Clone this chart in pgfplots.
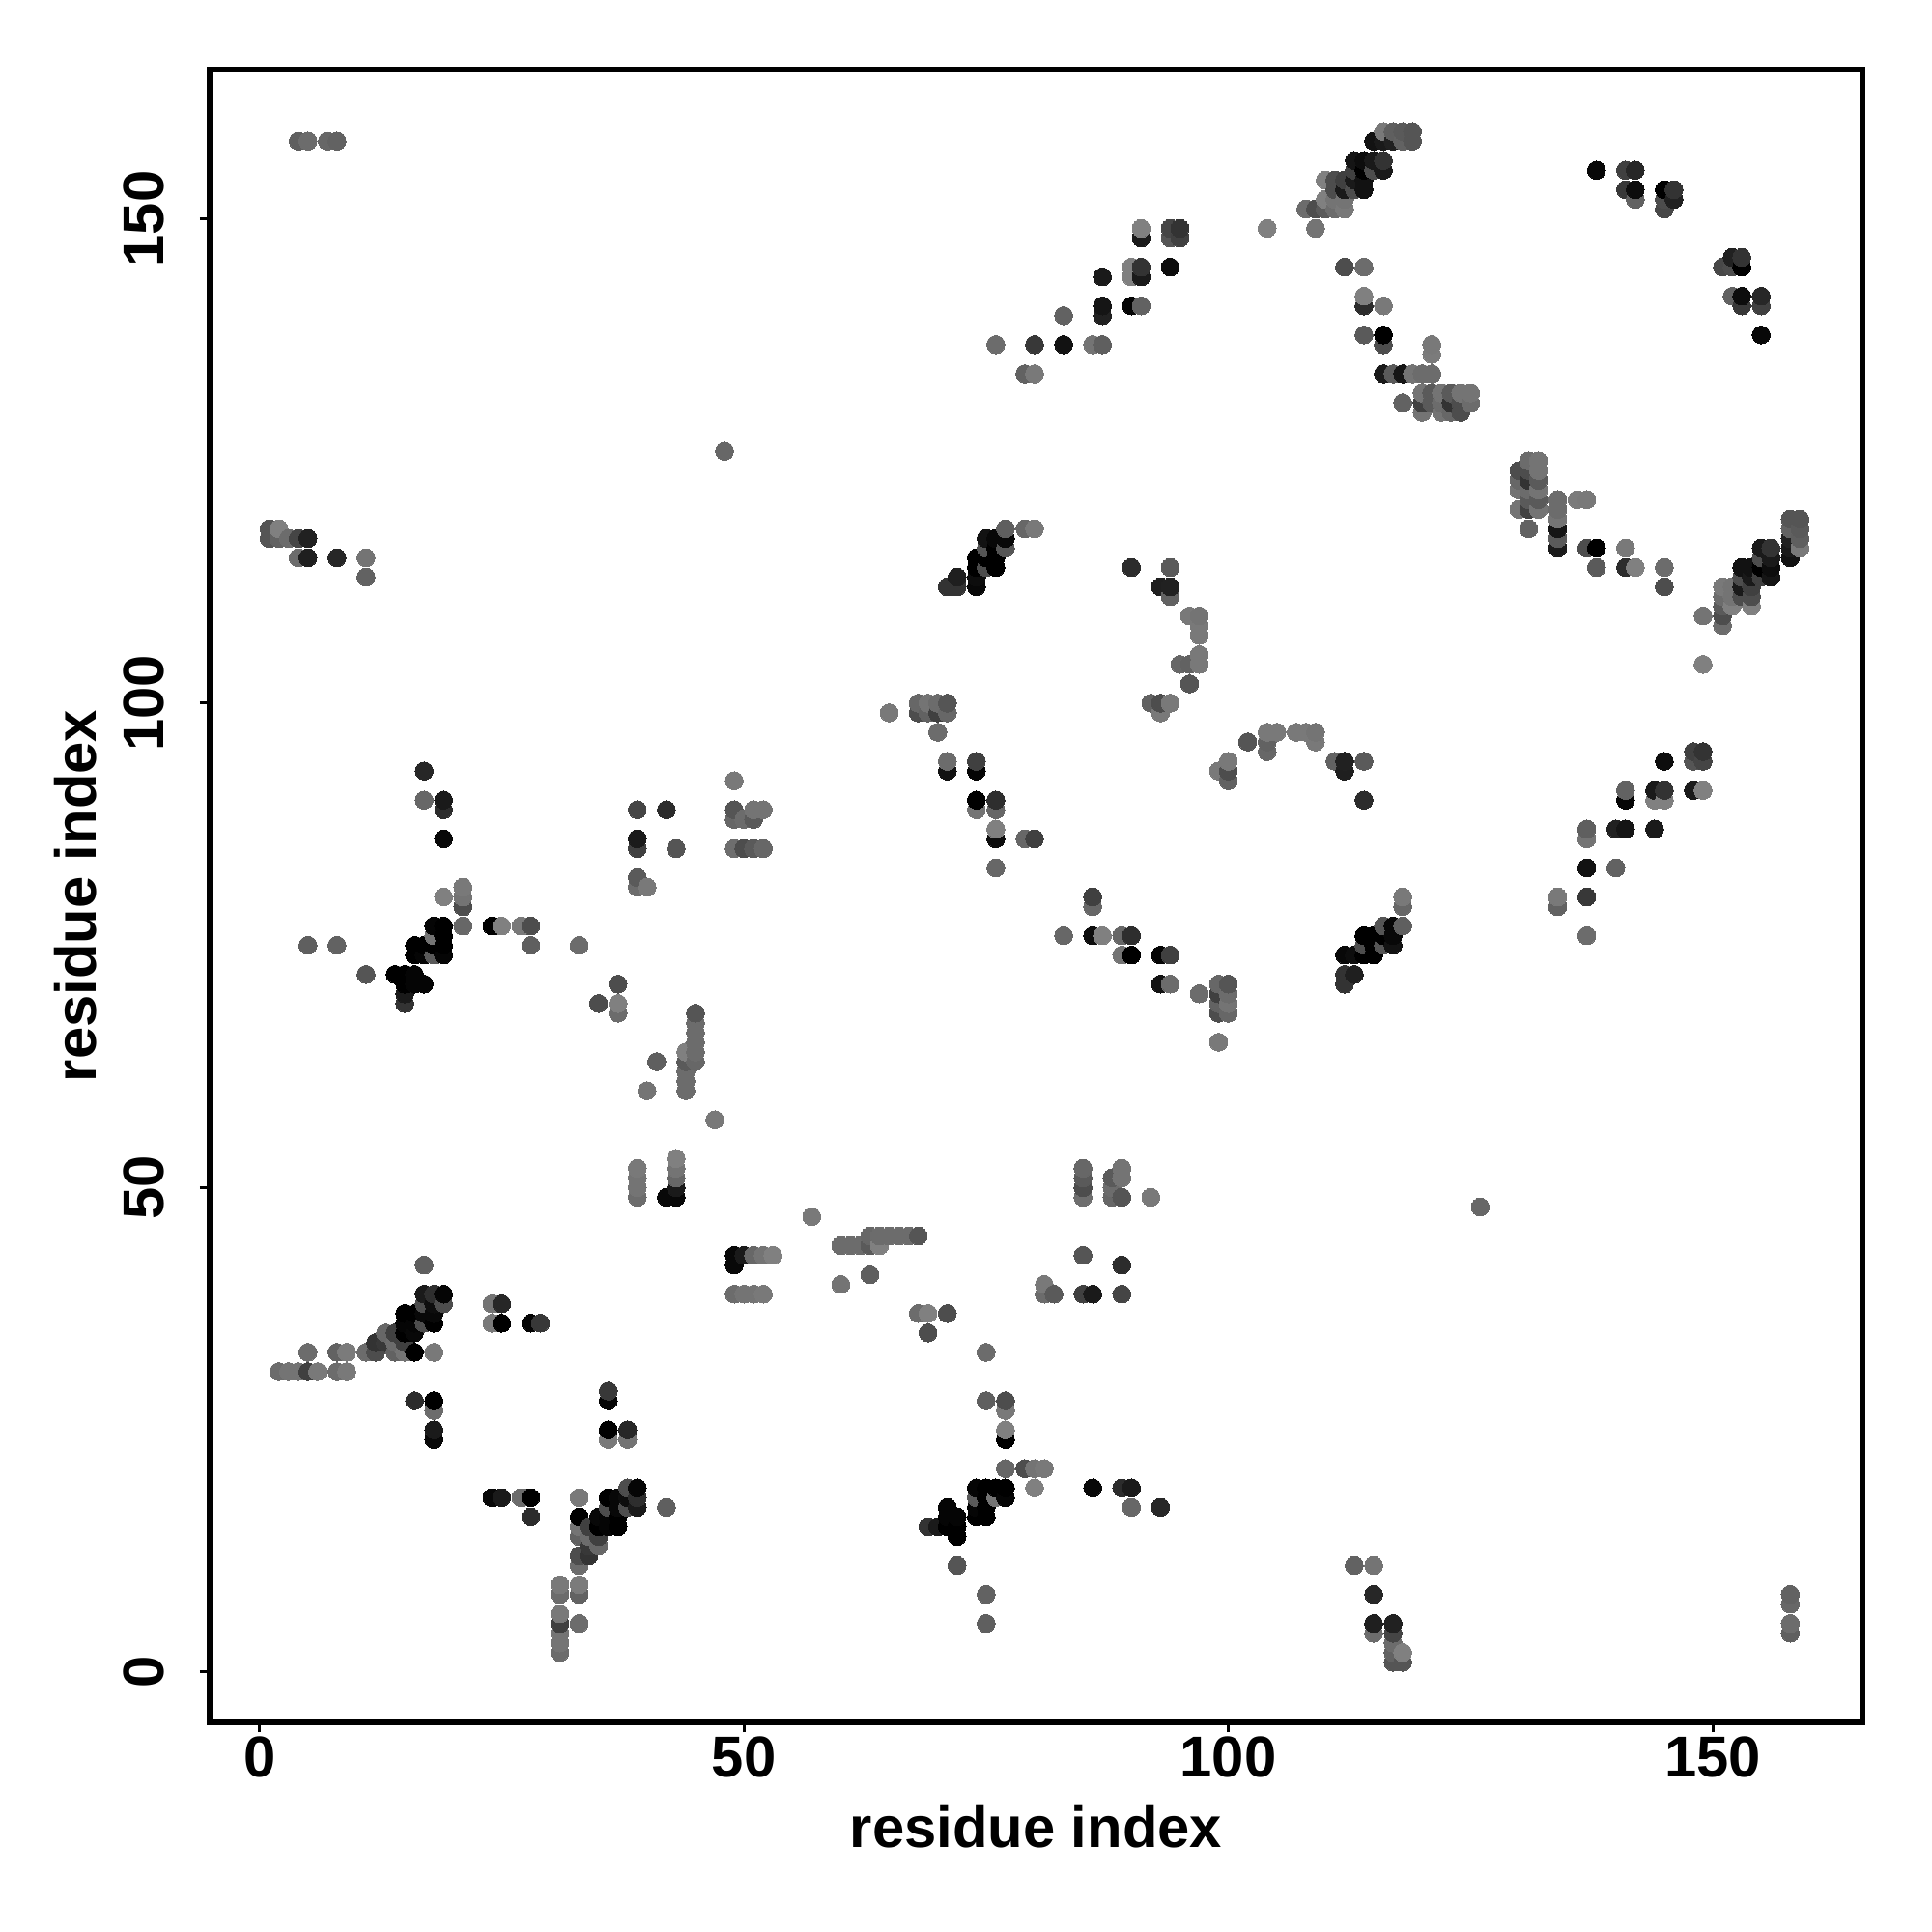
\documentclass[border=0pt]{standalone}
\usepackage{fontspec}
\setmainfont{Liberation Sans}
\usepackage{pgfplots}
\pgfplotsset{compat=1.18}
\begin{document}
\begin{tikzpicture}
\useasboundingbox (0,0) rectangle (20cm,20cm);
\begin{axis}[
  at={(2.17cm,2.17cm)}, anchor=south west,
  scale only axis, width=17.11cm, height=17.11cm,
  xmin=-5.15, xmax=165.45, ymin=-5.2, ymax=165.4,
  axis line style={line width=0.55mm},
  xtick={0,50,100,150}, ytick={0,50,100,150},
  xtick pos=bottom, ytick pos=left,
  tick align=outside, major tick length=1.0mm,
  tick style={line width=0.3mm, black},
  /pgf/number format/assume math mode=true,
  tick label style={font=\fontsize{17pt}{18pt}\selectfont\bfseries},
  xticklabel style={yshift=0.8mm},
  yticklabel style={rotate=90, anchor=south, yshift=2.4mm},
  label style={font=\fontsize{17pt}{18pt}\selectfont\bfseries},
  xlabel={residue index}, ylabel={residue index},
  xlabel style={at={(axis description cs:0.5,-0.0630)}, anchor=center},
  ylabel style={at={(axis description cs:-0.081,0.5)}, anchor=center},
  colormap={gr}{gray(0cm)=(0); gray(1cm)=(1)},
  point meta min=0, point meta max=1,
  clip=false,
]
\addplot[scatter, only marks, mark=*, mark size=0.93mm, mark options={line width=0pt},
  point meta=explicit,
  scatter/use mapped color={draw=mapped color, fill=mapped color}]
  table[row sep=\\, x=x, y=y, meta=g] {
x y g\\
1 117 .33\\ 1 118 .33\\
2 31 .42\\ 2 117 .38\\ 2 118 .5\\
3 31 .45\\ 3 117 .42\\
4 31 .45\\ 4 115 .42\\ 4 117 .27\\ 4 158 .37\\
5 31 .25\\ 5 33 .42\\ 5 75 .37\\ 5 115 .12\\ 5 117 .13\\ 5 158 .42\\
6 31 .47\\
7 158 .4\\
8 31 .42\\ 8 33 .38\\ 8 75 .38\\ 8 115 .15\\ 8 158 .38\\
9 31 .47\\ 9 33 .48\\
11 33 .42\\ 11 72 .33\\ 11 113 .38\\ 11 115 .45\\
12 33 .3\\ 12 34 .2\\
13 34 .22\\ 13 35 .4\\
14 33 .38\\ 14 34 .42\\ 14 35 .25\\ 14 72 0\\
15 33 .45\\ 15 34 .25\\ 15 35 0\\ 15 36 .02\\ 15 37 0\\ 15 69 .2\\ 15 70 .1\\ 15 71 0\\ 15 72 0\\
16 28 .17\\ 16 33 0\\ 16 35 .03\\ 16 36 .02\\ 16 37 0\\ 16 71 .02\\ 16 72 .02\\ 16 74 0\\ 16 75 0\\
17 36 .3\\ 17 37 .03\\ 17 38 .3\\ 17 39 .1\\ 17 42 .37\\ 17 71 .02\\ 17 74 .02\\ 17 75 0\\ 17 90 .4\\ 17 93 .15\\
18 24 .03\\ 18 25 .1\\ 18 27 .42\\ 18 28 0\\ 18 33 .47\\ 18 36 0\\ 18 37 .03\\ 18 38 .05\\ 18 39 .18\\ 18 74 .35\\ 18 75 0\\ 18 76 .45\\ 18 77 .02\\
19 38 .3\\ 19 39 .02\\ 19 74 .02\\ 19 75 0\\ 19 76 0\\ 19 77 0\\ 19 80 .5\\ 19 86 .03\\ 19 89 .17\\ 19 90 .1\\
21 77 .4\\ 21 79 .3\\ 21 80 .45\\ 21 81 .47\\
24 36 .47\\ 24 38 .45\\ 24 77 0\\
25 36 0\\ 25 38 .15\\ 25 77 .5\\
27 77 .47\\
28 36 .02\\ 28 75 .37\\ 28 77 .3\\
29 36 .22\\
33 75 .42\\
35 69 .3\\
37 68 .42\\ 37 69 .5\\ 37 71 .3\\
39 49 .42\\ 39 50 .45\\ 39 51 .45\\ 39 52 .47\\ 39 81 .42\\ 39 82 .35\\ 39 85 .25\\ 39 86 .1\\ 39 89 .27\\
40 60 .45\\ 40 81 .47\\
41 63 .37\\
42 49 .03\\ 42 89 .17\\
43 49 .03\\ 43 50 .1\\ 43 51 .4\\ 43 52 .45\\ 43 53 .5\\ 43 85 .33\\
44 60 .42\\ 44 61 .42\\ 44 62 .42\\ 44 63 .35\\ 44 64 .5\\
45 63 .4\\ 45 64 .42\\ 45 65 .42\\ 45 66 .42\\ 45 67 .42\\ 45 68 .33\\
47 57 .47\\
48 126 .4\\
49 85 .43\\ 49 88 .4\\ 49 89 .33\\ 49 92 .47\\
50 85 .3\\ 50 88 .42\\
51 85 .35\\ 51 88 .35\\ 51 89 .45\\
52 85 .4\\ 52 89 .45\\
65 99 .47\\
68 99 .3\\ 68 100 .4\\
69 99 .38\\ 69 100 .45\\
70 97 .42\\ 70 99 .25\\ 70 100 .42\\
71 93 .07\\ 71 94 .42\\ 71 99 .4\\ 71 100 .33\\ 71 112 .2\\
72 112 .2\\ 72 113 .12\\
74 89 .45\\ 74 90 0\\ 74 93 .02\\ 74 94 .25\\ 74 112 .03\\ 74 113 .05\\ 74 114 0\\ 74 115 0\\
75 114 .3\\ 75 115 0\\ 75 116 .33\\ 75 117 .07\\
76 83 .4\\ 76 86 .05\\ 76 87 .5\\ 76 89 .4\\ 76 90 .18\\ 76 114 0\\ 76 115 0\\ 76 116 0\\ 76 117 .03\\ 76 137 .42\\
77 116 .33\\ 77 117 .03\\ 77 118 .37\\
79 86 .4\\ 79 118 .4\\ 79 134 .38\\
80 86 .25\\ 80 118 .47\\ 80 134 .47\\ 80 137 .22\\
83 137 .07\\ 83 140 .38\\
86 137 .45\\
87 137 .37\\ 87 140 .13\\ 87 141 .08\\ 87 144 .1\\
90 114 .17\\ 90 141 .02\\ 90 144 .5\\ 90 145 .5\\
91 141 .38\\ 91 144 .1\\ 91 145 .2\\ 91 148 .1\\ 91 149 .5\\
92 100 .38\\
93 99 .47\\ 93 100 .3\\ 93 112 .12\\
94 100 .47\\ 94 111 .38\\ 94 112 .13\\ 94 114 .35\\ 94 145 .05\\ 94 148 .33\\ 94 149 .27\\
95 104 .4\\ 95 148 .25\\ 95 149 .2\\
96 102 .33\\ 96 104 .38\\ 96 109 .47\\
97 104 .47\\ 97 105 .47\\ 97 107 .47\\ 97 108 .47\\ 97 109 .45\\
104 149 .5\\
108 151 .42\\
109 149 .45\\ 109 151 .3\\
110 151 .35\\ 110 152 .5\\ 110 154 .5\\
111 151 .42\\ 111 152 .45\\ 111 153 .3\\ 111 154 .3\\
112 145 .3\\ 112 151 .47\\ 112 152 .45\\ 112 153 .1\\ 112 154 .25\\
113 153 .3\\ 113 154 .1\\ 113 155 .25\\ 113 156 .08\\
114 138 .35\\ 114 141 .17\\ 114 142 .5\\ 114 145 .42\\ 114 153 .07\\ 114 154 .07\\ 114 155 0\\ 114 156 .05\\
115 155 .3\\ 115 156 .1\\ 115 158 .07\\
116 134 .1\\ 116 137 .3\\ 116 138 0\\ 116 141 .47\\ 116 155 .1\\ 116 156 .2\\ 116 158 .1\\ 116 159 .47\\
117 134 .35\\ 117 158 .13\\ 117 159 .37\\
118 131 .38\\ 118 134 .08\\ 118 158 .38\\ 118 159 .35\\
119 134 .45\\ 119 158 .33\\ 119 159 .33\\
120 130 .45\\ 120 131 .25\\ 120 132 .45\\ 120 134 .42\\
121 131 .35\\ 121 132 .35\\ 121 134 .42\\ 121 136 .48\\ 121 137 .47\\
122 130 .45\\ 122 131 .42\\ 122 132 .45\\
123 130 .4\\ 123 131 .2\\ 123 132 .35\\
124 130 .3\\ 124 131 .3\\ 124 132 .45\\
125 131 .42\\ 125 132 .45\\
138 155 .03\\
141 153 .22\\ 141 155 .25\\
142 152 .38\\ 142 153 .05\\ 142 155 .15\\
145 151 .28\\ 145 152 .3\\ 145 153 0\\
146 152 .13\\ 146 153 .2\\
24 18 .03\\
25 18 .1\\
27 18 .42\\
28 16 .17\\ 28 18 0\\
31 2 .42\\ 31 3 .45\\ 31 4 .45\\ 31 5 .25\\ 31 6 .47\\ 31 8 .42\\ 31 9 .47\\
33 5 .42\\ 33 8 .38\\ 33 9 .48\\ 33 11 .42\\ 33 12 .3\\ 33 14 .38\\ 33 15 .45\\ 33 16 0\\ 33 18 .47\\
34 12 .2\\ 34 13 .22\\ 34 14 .42\\ 34 15 .25\\
35 13 .4\\ 35 14 .25\\ 35 15 0\\ 35 16 .03\\
36 15 .02\\ 36 16 .02\\ 36 17 .3\\ 36 18 0\\ 36 24 .47\\ 36 25 0\\ 36 28 .02\\ 36 29 .22\\
37 15 0\\ 37 16 0\\ 37 17 .03\\ 37 18 .03\\
38 17 .3\\ 38 18 .05\\ 38 19 .3\\ 38 24 .45\\ 38 25 .15\\
39 17 .1\\ 39 18 .18\\ 39 19 .02\\
42 17 .37\\
49 39 .42\\ 49 42 .03\\ 49 43 .03\\
50 39 .45\\ 50 43 .1\\
51 39 .45\\ 51 43 .4\\
52 39 .47\\ 52 43 .45\\
53 43 .5\\
57 47 .47\\
60 40 .45\\ 60 44 .42\\
61 44 .42\\
62 44 .42\\
63 41 .37\\ 63 44 .35\\ 63 45 .4\\
64 44 .5\\ 64 45 .42\\
65 45 .42\\
66 45 .42\\
67 45 .42\\
68 37 .42\\ 68 45 .33\\
69 15 .2\\ 69 35 .3\\ 69 37 .5\\
70 15 .1\\
71 15 0\\ 71 16 .02\\ 71 17 .02\\ 71 37 .3\\
72 11 .33\\ 72 14 0\\ 72 15 0\\ 72 16 .02\\
74 16 0\\ 74 17 .02\\ 74 18 .35\\ 74 19 .02\\
75 5 .37\\ 75 8 .38\\ 75 16 0\\ 75 17 0\\ 75 18 0\\ 75 19 0\\ 75 28 .37\\ 75 33 .42\\
76 18 .45\\ 76 19 0\\
77 18 .02\\ 77 19 0\\ 77 21 .4\\ 77 24 0\\ 77 25 .5\\ 77 27 .47\\ 77 28 .3\\
79 21 .3\\
80 19 .5\\ 80 21 .45\\
81 21 .47\\ 81 39 .42\\ 81 40 .47\\
82 39 .35\\
83 76 .4\\
85 39 .25\\ 85 43 .33\\ 85 49 .43\\ 85 50 .3\\ 85 51 .35\\ 85 52 .4\\
86 19 .03\\ 86 39 .1\\ 86 76 .05\\ 86 79 .4\\ 86 80 .25\\
87 76 .5\\
88 49 .4\\ 88 50 .42\\ 88 51 .35\\
89 19 .17\\ 89 39 .27\\ 89 42 .17\\ 89 49 .33\\ 89 51 .45\\ 89 52 .45\\ 89 74 .45\\ 89 76 .4\\
90 17 .4\\ 90 19 .1\\ 90 74 0\\ 90 76 .18\\
92 49 .47\\
93 17 .15\\ 93 71 .07\\ 93 74 .02\\
94 71 .42\\ 94 74 .25\\
97 70 .42\\
99 65 .47\\ 99 68 .3\\ 99 69 .38\\ 99 70 .25\\ 99 71 .4\\ 99 93 .47\\
100 68 .4\\ 100 69 .45\\ 100 70 .42\\ 100 71 .33\\ 100 92 .38\\ 100 93 .3\\ 100 94 .47\\
102 96 .33\\
104 95 .4\\ 104 96 .38\\ 104 97 .47\\
105 97 .47\\
107 97 .47\\
108 97 .47\\
109 96 .47\\ 109 97 .45\\
111 94 .38\\
112 71 .2\\ 112 72 .2\\ 112 74 .03\\ 112 93 .12\\ 112 94 .13\\
113 11 .38\\ 113 72 .12\\ 113 74 .05\\
114 74 0\\ 114 75 .3\\ 114 76 0\\ 114 90 .17\\ 114 94 .35\\
115 4 .42\\ 115 5 .12\\ 115 8 .15\\ 115 11 .45\\ 115 74 0\\ 115 75 0\\ 115 76 0\\
116 75 .33\\ 116 76 0\\ 116 77 .33\\
117 1 .33\\ 117 2 .38\\ 117 3 .42\\ 117 4 .27\\ 117 5 .13\\ 117 75 .07\\ 117 76 .03\\ 117 77 .03\\
118 1 .33\\ 118 2 .5\\ 118 77 .37\\ 118 79 .4\\ 118 80 .47\\
126 48 .4\\
130 120 .45\\ 130 122 .45\\ 130 123 .4\\ 130 124 .3\\
131 118 .38\\ 131 120 .25\\ 131 121 .35\\ 131 122 .42\\ 131 123 .2\\ 131 124 .3\\ 131 125 .42\\
132 120 .45\\ 132 121 .35\\ 132 122 .45\\ 132 123 .35\\ 132 124 .45\\ 132 125 .45\\
134 79 .38\\ 134 80 .47\\ 134 116 .1\\ 134 117 .35\\ 134 118 .08\\ 134 119 .45\\ 134 120 .42\\ 134 121 .42\\
136 121 .48\\
137 76 .42\\ 137 80 .22\\ 137 83 .07\\ 137 86 .45\\ 137 87 .37\\ 137 116 .3\\ 137 121 .47\\
138 114 .35\\ 138 116 0\\
140 83 .38\\ 140 87 .13\\
141 87 .08\\ 141 90 .02\\ 141 91 .38\\ 141 114 .17\\ 141 116 .47\\
142 114 .5\\
144 87 .1\\ 144 90 .5\\ 144 91 .1\\
145 90 .5\\ 145 91 .2\\ 145 94 .05\\ 145 112 .3\\ 145 114 .42\\
148 91 .1\\ 148 94 .33\\ 148 95 .25\\
149 91 .5\\ 149 94 .27\\ 149 95 .2\\ 149 104 .5\\ 149 109 .45\\
151 108 .42\\ 151 109 .3\\ 151 110 .35\\ 151 111 .42\\ 151 112 .47\\ 151 145 .28\\
152 110 .5\\ 152 111 .45\\ 152 112 .45\\ 152 142 .38\\ 152 145 .3\\ 152 146 .13\\
153 111 .3\\ 153 112 .1\\ 153 113 .3\\ 153 114 .07\\ 153 141 .22\\ 153 142 .05\\ 153 145 0\\ 153 146 .2\\
154 110 .5\\ 154 111 .3\\ 154 112 .25\\ 154 113 .1\\ 154 114 .07\\
155 113 .25\\ 155 114 0\\ 155 115 .3\\ 155 116 .1\\ 155 138 .03\\ 155 141 .25\\ 155 142 .15\\
156 113 .08\\ 156 114 .05\\ 156 115 .1\\ 156 116 .2\\
158 4 .37\\ 158 5 .42\\ 158 7 .4\\ 158 8 .38\\ 158 115 .07\\ 158 116 .1\\ 158 117 .13\\ 158 118 .38\\ 158 119 .33\\
159 116 .47\\ 159 117 .37\\ 159 118 .35\\ 159 119 .33\\
};
\end{axis}
\end{tikzpicture}
\end{document}
